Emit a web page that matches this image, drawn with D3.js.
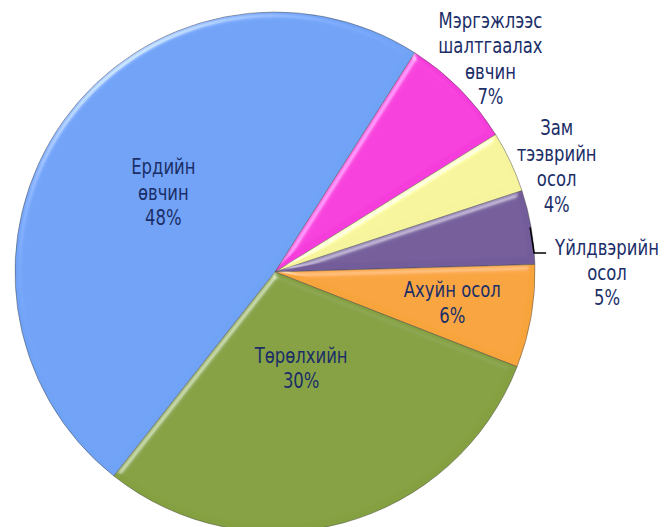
<!DOCTYPE html>
<html>
<head>
<meta charset="utf-8">
<script src="https://d3js.org/d3.v7.min.js"></script>
<style>
body { margin: 0; background: #fff; }
text { font-family: "DejaVu Sans Condensed", "DejaVu Sans", sans-serif; }
</style>
</head>
<body>
<svg width="667" height="527"></svg>
<script>
// slices, clockwise from the blue one
var categories = [
  ["Ердийн", "өвчин"],
  ["Мэргэжлээс", "шалтгаалах", "өвчин"],
  ["Зам", "тээврийн", "осол"],
  ["Үйлдвэрийн", "осол"],
  ["Ахуйн осол"],
  ["Төрөлхийн"]
];
var values = [48.4, 7.1, 3.8, 4.6, 6.4, 29.7];
var colors = ["#6fa2f6", "#f63edc", "#f6f49c", "#735c9a", "#f8a43d", "#84a03f"];

var svg = d3.select("svg"),
    cx = 275, cy = 272, radius = 260;

var defs = svg.append("defs");
var f = defs.append("filter").attr("id", "bevel")
    .attr("x", "-5%").attr("y", "-5%").attr("width", "110%").attr("height", "110%");
f.append("feGaussianBlur").attr("in", "SourceAlpha").attr("stdDeviation", 3).attr("result", "blur");
f.append("feSpecularLighting").attr("in", "blur").attr("surfaceScale", 3)
    .attr("specularConstant", 0.45).attr("specularExponent", 40)
    .attr("lighting-color", "#ffffff").attr("result", "spec")
  .append("feDistantLight").attr("azimuth", 235).attr("elevation", 40);
f.append("feComposite").attr("in", "spec").attr("in2", "SourceAlpha").attr("operator", "in").attr("result", "specIn");
f.append("feComposite").attr("in", "SourceGraphic").attr("in2", "specIn")
    .attr("operator", "arithmetic").attr("k1", 0).attr("k2", 1).attr("k3", 1).attr("k4", 0);

var start = 218.3 * Math.PI / 180;
var pie = d3.pie().sort(null).value(function(d) { return d; })
    .startAngle(start).endAngle(start + 2 * Math.PI);
var arcs = pie(values);

var arc = d3.arc().innerRadius(0).outerRadius(radius);

var g = svg.append("g").attr("transform", "translate(" + cx + "," + cy + ")");

g.selectAll("path")
  .data(arcs)
  .enter().append("path")
    .attr("d", arc)
    .attr("fill", function(d, i) { return colors[i]; })
    .attr("stroke", "rgba(60,60,60,0.55)")
    .attr("stroke-width", 0.8)
    .attr("filter", "url(#bevel)");

// label placement: radius along the slice middle, plus a nudge
var labelLayout = [
  {r: 137, dx: 0, dy: 0},
  {r: 303, dx: 0, dy: 0},
  {r: 301, dx: 9, dy: 22},
  {r: 332, dx: 0, dy: 0},
  {r: 180, dx: 0, dy: 0},
  {r: 100, dx: 0, dy: 0}
];
var lineH = 25.5;

arcs.forEach(function(d, i) {
  var a = (d.startAngle + d.endAngle) / 2;
  var L = labelLayout[i];
  var x = L.r * Math.sin(a) + L.dx,
      y = -L.r * Math.cos(a) + L.dy;
  if (i === 3) { x = 332; y = 1; }
  var lines = categories[i].concat([Math.round(values[i]) + "%"]);
  var y0 = -(lines.length - 1) * lineH / 2 + 7;
  var t = g.append("text")
      .attr("transform", "translate(" + x + "," + y + ") scale(0.87,1)")
      .attr("text-anchor", "middle")
      .attr("fill", "#1b2e68")
      .attr("font-size", 21);
  lines.forEach(function(s, k) {
    t.append("tspan").attr("x", 0).attr("y", y0 + k * lineH).text(s);
  });
});

// leader line for the small purple slice
var p = arcs[3];
var pm = (p.startAngle + p.endAngle) / 2;
var ex = (radius - 1) * Math.sin(pm), ey = -(radius - 1) * Math.cos(pm);
g.append("path")
  .attr("d", "M" + ex + "," + ey + "L" + (ex + 4) + "," + (-19) + "L" + (ex + 16) + "," + (-19))
  .attr("fill", "none")
  .attr("stroke", "#000")
  .attr("stroke-width", 1.5);
</script>
</body>
</html>
